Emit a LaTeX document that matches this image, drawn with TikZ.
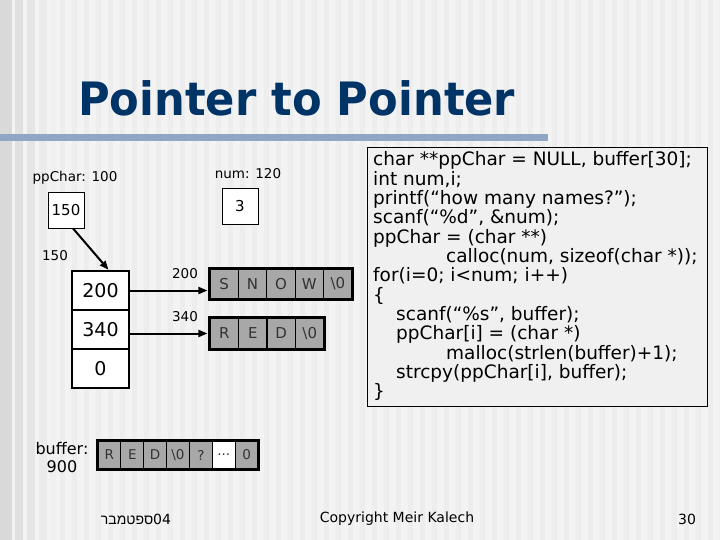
\documentclass[tikz,border=0pt]{standalone}
\usepackage{graphicx}
\usepackage{fontspec}
\setmainfont{DejaVu Sans}
\newfontfamily\hebfont[Script=Hebrew]{Liberation Sans}
\TeXXeTstate=1
\usetikzlibrary{arrows.meta,calc}
\definecolor{bgc}{RGB}{243,243,243}
\definecolor{stripec}{RGB}{237,237,237}
\definecolor{titlec}{RGB}{0,51,102}
\definecolor{linec}{RGB}{143,166,196}
\definecolor{cellc}{RGB}{168,168,168}
\definecolor{codebg}{RGB}{240,240,240}
\newcommand\mydotsx{...}
\begin{document}
\begin{tikzpicture}[x=1pt,y=-1pt,
  lbl/.style={font=\fontsize{13.5}{15}\selectfont, inner sep=0},
  valbox/.style={draw, line width=0.8pt, fill=white, minimum width=36pt, minimum height=36pt, inner sep=0, font=\fontsize{15}{17}\selectfont},
  arrcell/.style={draw, line width=2.5pt, fill=white, minimum width=57pt, minimum height=39pt, inner sep=0, font=\fontsize{19}{21}\selectfont},
  chcell/.style={draw, line width=1.2pt, fill=cellc, minimum width=28.4pt, minimum height=30pt, inner sep=0, text=black!80, font=\fontsize{15}{17}\selectfont},
  bufcell/.style={draw, line width=1.2pt, fill=cellc, minimum width=22.86pt, minimum height=28pt, inner sep=0, text=black!80, font=\fontsize{13.5}{15}\selectfont},
  rowframe/.style={draw, line width=2.5pt},
  ptr/.style={line width=2pt, -{Triangle[length=9pt,width=7pt]}},
  codeline/.style={anchor=base west, inner sep=0, font=\fontsize{18.5}{20}\selectfont},
  foot/.style={font=\fontsize{14}{16}\selectfont, inner sep=0}]
\useasboundingbox (0,0) rectangle (720,540);
% background
\fill[bgc] (0,0) rectangle (720,540);
\foreach \x in {60,72,...,715} {\fill[stripec] (\x,0) rectangle ++(5,540);}
\fill[black!15] (0,0) rectangle (12,540);
\fill[black!12] (15,0) rectangle (23,540);
\fill[black!10] (27,0) rectangle (35,540);
\fill[black!8] (39,0) rectangle (47,540);
\fill[black!6] (50,0) rectangle (56,540);
% title
\node[anchor=base west, inner sep=0, text=titlec, font=\fontsize{46}{50}\bfseries\selectfont] (title) at (78,116) {\scalebox{0.94}[1]{Pointer to Pointer}};
\fill[linec] (0,134) rectangle (548,141);
% code box
\node[draw, line width=0.8pt, fill=codebg, minimum width=340pt, minimum height=259pt, anchor=north west, inner sep=0] (codebox) at (367,147) {};
\node[codeline] (c1) at (373,166.0) {char **ppChar = NULL, buffer[30];};
\node[codeline] (c2) at (373,185.3) {int num,i;};
\node[codeline] (c3) at (373,204.6) {printf(“how many names?”);};
\node[codeline] (c4) at (373,223.9) {scanf(“\%d”, \&num);};
\node[codeline] (c5) at (373,243.2) {ppChar = (char **)};
\node[codeline] (c6) at (446,262.5) {calloc(num, sizeof(char *));};
\node[codeline] (c7) at (373,281.8) {for(i=0; i<num; i++)};
\node[codeline] (c8) at (373,301.1) {\{};
\node[codeline] (c9) at (396,320.4) {scanf(“\%s”, buffer);};
\node[codeline] (c10) at (396,339.7) {ppChar[i] = (char *)};
\node[codeline] (c11) at (446,359.0) {malloc(strlen(buffer)+1);};
\node[codeline] (c12) at (396,378.3) {strcpy(ppChar[i], buffer);};
\node[codeline] (c13) at (373,397.6) {\}};
% variables
\node[lbl] (lp) at (75,178) {ppChar: 100};
\node[lbl] (ln) at (248,174) {num: 120};
\node[valbox] (p) at (66,210) {150};
\node[valbox] (n) at (240,206) {3};
\node[lbl] (l150) at (55,256) {150};
% array of pointers
\node[arrcell] (a1) at (100.5,290.5) {200};
\node[arrcell] (a2) at (100.5,329.5) {340};
\node[arrcell] (a3) at (100.5,368.5) {0};
\draw[ptr] ([xshift=7pt]p.south) -- ([xshift=8pt]a1.north);
% strings
\node[lbl] (l200) at (185,274) {200};
\node[lbl] (l340) at (185,317) {340};
\foreach \c [count=\i from 0] in {S,N,O,W,\textbackslash 0}
  {\node[chcell] (s\i) at (224.2+28.4*\i,284) {\c};}
\draw[rowframe] (s0.north west) rectangle (s4.south east);
\foreach \c [count=\i from 0] in {R,E,D,\textbackslash 0}
  {\node[chcell, minimum width=28.5pt, minimum height=31pt] (r\i) at (224.25+28.5*\i,333.5) {\c};}
\draw[rowframe] (r0.north west) rectangle (r3.south east);
\draw[ptr, shorten >=2pt] (a1.east) -- (a1.east -| s0.west);
\draw[ptr, shorten >=2pt] (a2.east |- r0.west) -- (r0.west);
% buffer
\node[font=\fontsize{16}{18}\selectfont, align=center, inner sep=0] (lb) at (62,458) {buffer:\\900};
\foreach \c [count=\i from 0] in {R,E,D,\textbackslash 0,?,\mydotsx,0}
  {\node[bufcell] (b\i) at (109.43+22.86*\i,455) {\c};}
\node[bufcell, fill=white] (b5w) at (b5) {\mydotsx};
\draw[rowframe] (b0.north west) rectangle (b6.south east);
% footer
\node[foot] (date) at (136,519) {{\hebfont\beginR ספטמבר\endR}04};
\node[foot] (copy) at (397,519) {Copyright Meir Kalech};
\node[foot] (page) at (687,519) {30};
\end{tikzpicture}
\end{document}
